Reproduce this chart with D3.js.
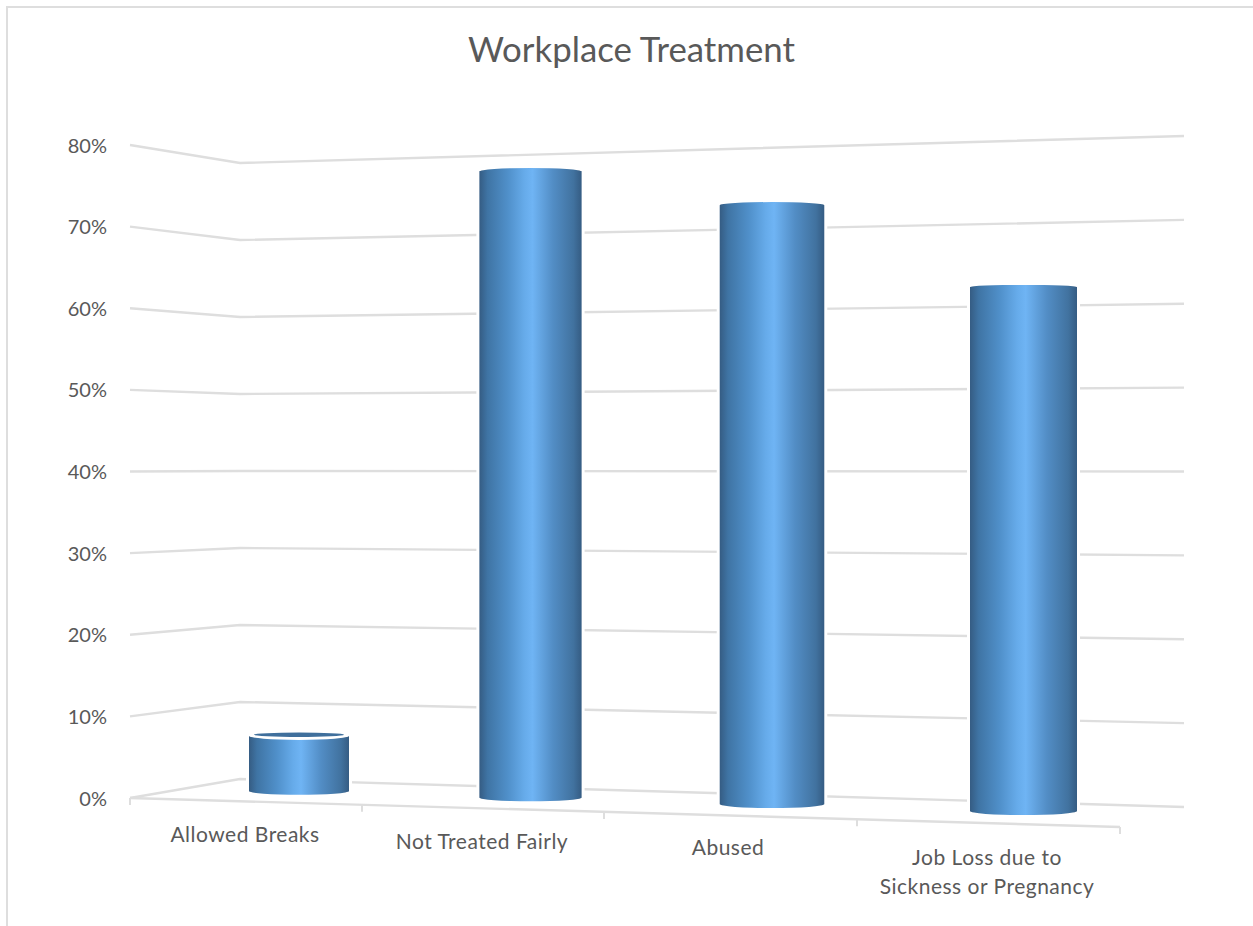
<!DOCTYPE html>
<html>
<head>
<meta charset="utf-8">
<script src="https://cdn.jsdelivr.net/npm/d3@7"></script>
<style>
  html, body { margin: 0; padding: 0; background: #fff; overflow: hidden; }
  text { font-family: Lato, "Open Sans", sans-serif; fill: #595959; }
</style>
</head>
<body>
<svg width="1253" height="926"></svg>
<script>
const categories = [["Allowed Breaks"], ["Not Treated Fairly"], ["Abused"], ["Job Loss due to", "Sickness or Pregnancy"]];
const values = [7, 77.5, 72.5, 62];
const gridValues = [0, 10, 20, 30, 40, 50, 60, 70, 80];

const svg = d3.select("svg");
const gridColor = "#dedede";

// outer frame of the picture, only top and left are visible
svg.append("path")
  .attr("d", "M7,926V7H1253")
  .attr("fill", "none")
  .attr("stroke", gridColor)
  .attr("stroke-width", 2);

svg.append("text")
  .attr("x", 631.5)
  .attr("y", 62)
  .attr("text-anchor", "middle")
  .style("font-size", "34.8px")
  .text("Workplace Treatment");

// three value scales, the walls are in perspective
const yLeft = d3.scaleLinear().domain([0, 80]).range([798, 145]);
const yCorner = d3.scaleLinear().domain([0, 80]).range([779, 163]);
const yRight = d3.scaleLinear().domain([0, 80]).range([807, 136]);
const xLeft = 130, xCorner = 240, xRight = 1184;

const line = d3.line();

svg.append("g")
  .selectAll("path")
  .data(gridValues)
  .enter()
  .append("path")
    .attr("d", d => line([[xLeft, yLeft(d)], [xCorner, yCorner(d)], [xRight, yRight(d)]]))
    .attr("fill", "none")
    .attr("stroke", gridColor)
    .attr("stroke-width", 2.4);

// front edge of the floor with its ticks
const floorX = d3.scaleLinear().domain([0, 1, 2, 3, 4]).range([130, 362, 604, 857, 1120]);
const floorY = d3.scaleLinear().domain([130, 1120]).range([798, 827]);

svg.append("path")
  .attr("d", line([[floorX(0), floorY(floorX(0))], [floorX(4), floorY(floorX(4))]]))
  .attr("fill", "none")
  .attr("stroke", gridColor)
  .attr("stroke-width", 2.4);

svg.append("g")
  .selectAll("line")
  .data(d3.range(5))
  .enter()
  .append("line")
    .attr("x1", d => floorX(d))
    .attr("x2", d => floorX(d))
    .attr("y1", d => floorY(floorX(d)))
    .attr("y2", d => floorY(floorX(d)) + 7)
    .attr("stroke", gridColor)
    .attr("stroke-width", 2);

// value labels
const axis = svg.append("g")
  .attr("transform", "translate(115,0)")
  .call(d3.axisLeft(yLeft).tickValues(gridValues).tickSize(0).tickFormat(d => d + "%"));
axis.select(".domain").remove();
axis.selectAll("text")
  .attr("x", -8)
  .attr("dy", "0.35em")
  .attr("fill", null)
  .style("font-family", "Lato, 'Open Sans', sans-serif")
  .style("font-size", "20px");

// category labels follow the floor edge
const labelX = d3.scaleLinear().domain([0, 1, 2, 3]).range([245, 482, 728, 987]);
const labelY = d3.scaleLinear().domain([0, 1, 2, 3]).range([842, 849, 855, 865]);

const labels = svg.append("g")
  .selectAll("text")
  .data(categories)
  .enter()
  .append("text")
    .attr("text-anchor", "middle")
    .attr("transform", (d, i) => "translate(" + labelX(i) + "," + labelY(i) + ")")
    .style("font-size", "21px")
    .style("letter-spacing", "0.5px");

labels.selectAll("tspan")
  .data(d => d)
  .enter()
  .append("tspan")
    .attr("x", 0)
    .attr("y", (d, i) => i * 29)
    .text(d => d);

// cylinders
const defs = svg.append("defs");
const grad = defs.append("linearGradient").attr("id", "cyl");
[[0, "#355c83"], [0.08, "#3f74a4"], [0.28, "#5090ca"], [0.44, "#66abea"], [0.52, "#6fb4f4"], [0.72, "#528dc5"], [0.92, "#41729f"], [1, "#355c83"]]
  .forEach(s => grad.append("stop").attr("offset", s[0]).attr("stop-color", s[1]));

const barX = d3.scaleLinear().domain([0, 1, 2, 3]).range([299, 530.5, 772, 1023.5]);
const barBase = d3.scaleLinear().domain([299, 1023.5]).range([791, 811]);
const barUnit = d3.scaleLinear().domain([299, 1023.5]).range([7.9, 8.45]);
const barWidth = d3.scaleLinear().domain([299, 1023.5]).range([100, 107]);
const eyeY = 471;

function arcHeight(y) { return Math.abs(y - eyeY) * 0.012; }

const bars = svg.append("g")
  .selectAll("g")
  .data(values)
  .enter()
  .append("g")
  .each(function(d, i) {
    const cx = barX(i);
    const rx = barWidth(cx) / 2;
    const yb = barBase(cx);
    const yt = yb - d * barUnit(cx);
    const rt = arcHeight(yt);
    const rb = arcHeight(yb);
    const above = yt > eyeY; // top face can be seen only when it is under the eye line
    const side = "M" + (cx - rx) + "," + yt
      + "A" + rx + "," + rt + " 0 0 " + (above ? 0 : 1) + " " + (cx + rx) + "," + yt
      + "L" + (cx + rx) + "," + yb
      + "A" + rx + "," + rb + " 0 0 1 " + (cx - rx) + "," + yb + "Z";
    const g = d3.select(this);
    g.append("path")
      .attr("d", side)
      .attr("fill", "#fff")
      .attr("stroke", "#fff")
      .attr("stroke-width", 6);
    g.append("path").attr("d", side).attr("fill", "url(#cyl)");
    if (above) {
      g.append("ellipse")
        .attr("cx", cx).attr("cy", yt)
        .attr("rx", rx).attr("ry", rt + 1)
        .attr("fill", "#fff");
      g.append("ellipse")
        .attr("cx", cx).attr("cy", yt - 1)
        .attr("rx", rx - 5).attr("ry", rt - 1)
        .attr("fill", "#3f6f9c");
    }
  });
</script>
</body>
</html>
